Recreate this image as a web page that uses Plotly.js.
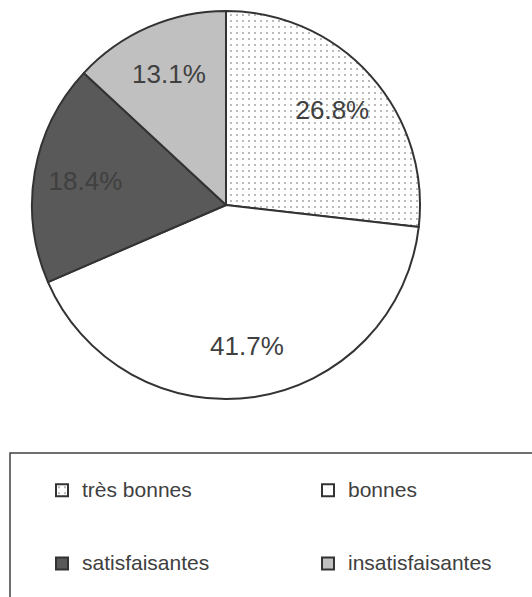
<!DOCTYPE html>
<html>
<head>
<meta charset="utf-8">
<script src="https://cdn.plot.ly/plotly-3.0.1.min.js"></script>
<style>html,body{margin:0;padding:0;background:#fff;overflow:hidden;width:532px;height:597px;}#chart{width:600px;height:597px;}</style>
</head>
<body>
<div id="chart"></div>
<script>
const categories = ["très bonnes", "bonnes", "satisfaisantes", "insatisfaisantes"];
const percentages = [26.8, 41.7, 18.4, 13.1];
const sliceColors = ["#ffffff", "#ffffff", "#595959", "#c0c0c0"];
const slicePatterns = [".", "", "", ""];

// The original figure is cropped on the right (legend box runs off the edge),
// so the plotting canvas is a bit wider than the 532px window.
const W = 600, H = 597;
const cx = 226, cy = 205, R = 194;
const domain = {x: [(cx - R) / W, (cx + R) / W], y: [1 - (cy + R) / H, 1 - (cy - R) / H]};
const font = "Liberation Sans, Arial, sans-serif";

// legend rows: first-row entries carry two blank lines to reproduce the wide row spacing
const legendLabels = categories.map((c, i) =>
  '<span style="font-size:21px">' + c + '</span>' + (i < 2 ? "<br>\u00a0<br>\u00a0" : ""));

const pieTrace = {
  type: "pie",
  labels: legendLabels,
  values: percentages,
  sort: false,
  direction: "clockwise",
  rotation: 0,
  textinfo: "none",
  hoverinfo: "skip",
  marker: {
    colors: sliceColors,
    line: {color: "#333333", width: 2},
    pattern: {shape: slicePatterns, fgcolor: "#404040", size: 6, solidity: 0.08, fillmode: "overlay"}
  },
  domain: domain
};

// transparent ring carrying the percentage labels, so they sit ~3/4 of the way out
const labelTrace = {
  type: "pie",
  labels: categories,
  values: percentages,
  sort: false,
  direction: "clockwise",
  rotation: 0,
  hole: 0.47,
  showlegend: false,
  text: percentages.map(v => v.toFixed(1) + "%"),
  textinfo: "text",
  textposition: "inside",
  insidetextorientation: "horizontal",
  textfont: {family: font, size: 26, color: "#404040"},
  hoverinfo: "skip",
  marker: {colors: categories.map(() => "rgba(0,0,0,0)"), line: {width: 0}},
  domain: domain
};

const layout = {
  width: W, height: H,
  margin: {l: 0, r: 0, t: 0, b: 0},
  paper_bgcolor: "#ffffff",
  showlegend: true,
  font: {family: font, color: "#404040"},
  legend: {
    orientation: "h",
    x: 42 / W, xanchor: "left",
    y: 1 - 472 / H, yanchor: "top",
    entrywidth: 221, entrywidthmode: "pixels",
    valign: "top",
    font: {size: 18, color: "#404040"},
    bgcolor: "rgba(0,0,0,0)", borderwidth: 0
  },
  shapes: [{
    type: "rect", xref: "paper", yref: "paper",
    x0: 10 / W, x1: 1.02, y0: -0.05, y1: 1 - 453 / H,
    line: {color: "#404040", width: 1.5}, fillcolor: "rgba(0,0,0,0)"
  }]
};

Plotly.newPlot("chart", [pieTrace, labelTrace], layout, {staticPlot: true, displayModeBar: false});
</script>
</body>
</html>
